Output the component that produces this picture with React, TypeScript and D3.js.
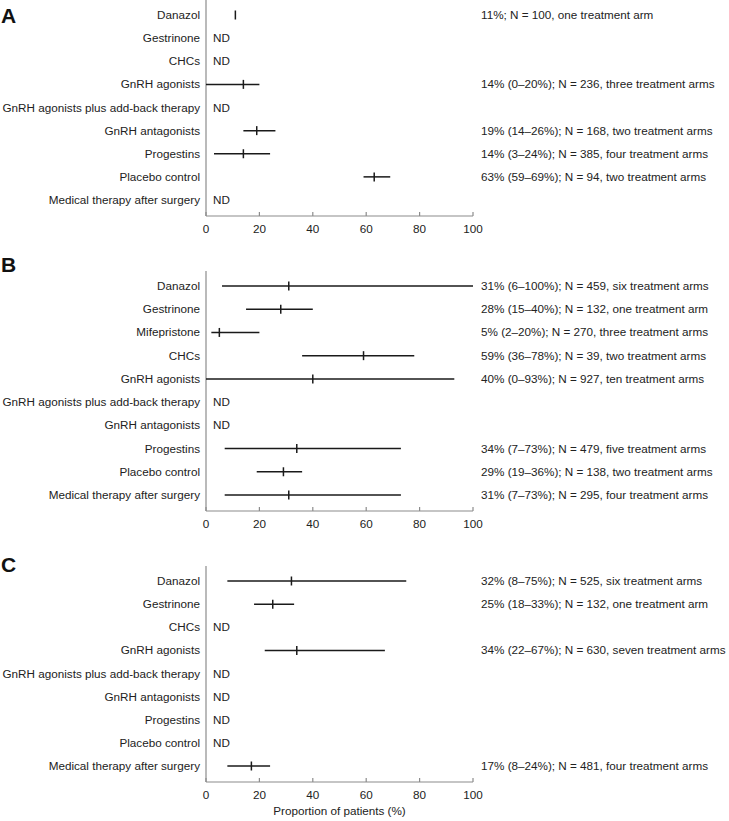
import React from "react";
import * as d3 from "d3";

// panel A
const catsA = [
  "Danazol",
  "Gestrinone",
  "CHCs",
  "GnRH agonists",
  "GnRH agonists plus add-back therapy",
  "GnRH antagonists",
  "Progestins",
  "Placebo control",
  "Medical therapy after surgery",
];
const estA = [11, null, null, 14, null, 19, 14, 63, null];
const loA = [null, null, null, 0, null, 14, 3, 59, null];
const hiA = [null, null, null, 20, null, 26, 24, 69, null];
const notesA = [
  "11%; N = 100, one treatment arm",
  "",
  "",
  "14% (0–20%); N = 236, three treatment arms",
  "",
  "19% (14–26%); N = 168, two treatment arms",
  "14% (3–24%); N = 385, four treatment arms",
  "63% (59–69%); N = 94, two treatment arms",
  "",
];

// panel B
const catsB = [
  "Danazol",
  "Gestrinone",
  "Mifepristone",
  "CHCs",
  "GnRH agonists",
  "GnRH agonists plus add-back therapy",
  "GnRH antagonists",
  "Progestins",
  "Placebo control",
  "Medical therapy after surgery",
];
const estB = [31, 28, 5, 59, 40, null, null, 34, 29, 31];
const loB = [6, 15, 2, 36, 0, null, null, 7, 19, 7];
const hiB = [100, 40, 20, 78, 93, null, null, 73, 36, 73];
const notesB = [
  "31% (6–100%); N = 459, six treatment arms",
  "28% (15–40%); N = 132, one treatment arm",
  "5% (2–20%); N = 270, three treatment arms",
  "59% (36–78%); N = 39, two treatment arms",
  "40% (0–93%); N = 927, ten treatment arms",
  "",
  "",
  "34% (7–73%); N = 479, five treatment arms",
  "29% (19–36%); N = 138, two treatment arms",
  "31% (7–73%); N = 295, four treatment arms",
];

// panel C
const catsC = [
  "Danazol",
  "Gestrinone",
  "CHCs",
  "GnRH agonists",
  "GnRH agonists plus add-back therapy",
  "GnRH antagonists",
  "Progestins",
  "Placebo control",
  "Medical therapy after surgery",
];
const estC = [32, 25, null, 34, null, null, null, null, 17];
const loC = [8, 18, null, 22, null, null, null, null, 8];
const hiC = [75, 33, null, 67, null, null, null, null, 24];
const notesC = [
  "32% (8–75%); N = 525, six treatment arms",
  "25% (18–33%); N = 132, one treatment arm",
  "",
  "34% (22–67%); N = 630, seven treatment arms",
  "",
  "",
  "",
  "",
  "17% (8–24%); N = 481, four treatment arms",
];

const xTicks = [0, 20, 40, 60, 80, 100];

const font = "'Liberation Sans', Arial, Helvetica, sans-serif";
const fs = 11.7;
const W = 729;
const H = 821;

const x = d3.scaleLinear().domain([0, 100]).range([206, 473]);

type PanelProps = {
  letter: string;
  letterY: number;
  cats: string[];
  est: (number | null)[];
  lo: (number | null)[];
  hi: (number | null)[];
  notes: string[];
  firstRow: number;
  lastRow: number;
  showTitle?: boolean;
};

const Panel = ({ letter, letterY, cats, est, lo, hi, notes, firstRow, lastRow, showTitle }: PanelProps) => {
  const y = d3.scalePoint<string>().domain(cats).range([firstRow, lastRow]);
  const top = Math.max(0, firstRow - 15);
  const bottom = lastRow + 16;
  const axisColor = "#8c8c8c";
  return (
    <g>
      <text x={1} y={letterY} fontSize={21} fontWeight="bold" fontFamily={font} fill="#111">
        {letter}
      </text>
      {/* axes */}
      <line x1={x(0)} x2={x(0)} y1={top} y2={bottom} stroke={axisColor} strokeWidth={1.2} />
      <line x1={x(0)} x2={x(100)} y1={bottom} y2={bottom} stroke={axisColor} strokeWidth={1.2} />
      {xTicks.map((t) => (
        <g key={t}>
          <line x1={x(t)} x2={x(t)} y1={bottom} y2={bottom - 4} stroke={axisColor} strokeWidth={1.2} />
          <text x={x(t)} y={bottom + 17} textAnchor="middle" fontSize={fs} fontFamily={font} fill="#222">
            {t}
          </text>
        </g>
      ))}
      {cats.map((c, i) => {
        const cy = y(c) as number;
        const e = est[i];
        return (
          <g key={c}>
            <text x={200} y={cy + 4} textAnchor="end" fontSize={fs} fontFamily={font} fill="#222">
              {c}
            </text>
            {e === null ? (
              <text x={213} y={cy + 4} fontSize={fs} fontFamily={font} fill="#222">
                ND
              </text>
            ) : (
              <g stroke="#1a1a1a" strokeWidth={1.5}>
                {lo[i] !== null && (
                  <line x1={x(lo[i] as number)} x2={x(hi[i] as number)} y1={cy} y2={cy} />
                )}
                <line x1={x(e)} x2={x(e)} y1={cy - 4.5} y2={cy + 4.5} />
              </g>
            )}
            {notes[i] && (
              <text x={481} y={cy + 4} fontSize={fs} fontFamily={font} fill="#222">
                {notes[i]}
              </text>
            )}
          </g>
        );
      })}
      {showTitle && (
        <text x={x(50)} y={bottom + 33} textAnchor="middle" fontSize={fs} fontFamily={font} fill="#222">
          Proportion of patients (%)
        </text>
      )}
    </g>
  );
};

export default function App() {
  return (
    <svg
      width={W}
      height={H}
      style={{ position: "absolute", left: 0, top: 0, background: "#fff", display: "block" }}
    >
      <Panel letter="A" letterY={23} cats={catsA} est={estA} lo={loA} hi={hiA} notes={notesA} firstRow={15} lastRow={200} />
      <Panel letter="B" letterY={272} cats={catsB} est={estB} lo={loB} hi={hiB} notes={notesB} firstRow={286} lastRow={495} />
      <Panel letter="C" letterY={572} cats={catsC} est={estC} lo={loC} hi={hiC} notes={notesC} firstRow={581} lastRow={766} showTitle />
    </svg>
  );
}
